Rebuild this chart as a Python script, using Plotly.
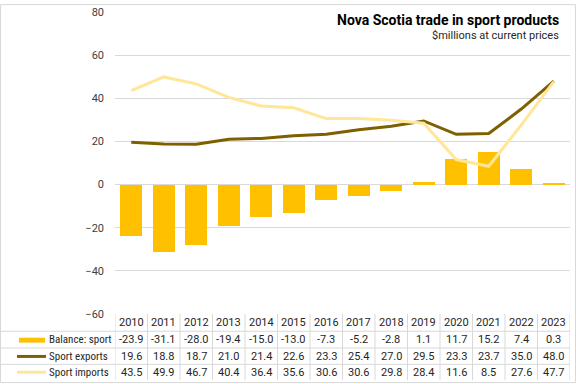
import plotly.graph_objects as go

years = ["2010", "2011", "2012", "2013", "2014", "2015", "2016", "2017", "2018", "2019", "2020", "2021", "2022", "2023"]
balance = [-23.9, -31.1, -28.0, -19.4, -15.0, -13.0, -7.3, -5.2, -2.8, 1.1, 11.7, 15.2, 7.4, 0.3]
exports = [19.6, 18.8, 18.7, 21.0, 21.4, 22.6, 23.3, 25.4, 27.0, 29.5, 23.3, 23.7, 35.0, 48.0]
imports = [43.5, 49.9, 46.7, 40.4, 36.4, 35.6, 30.6, 30.6, 29.8, 28.4, 11.6, 8.5, 27.6, 47.7]
series_names = ["Balance: sport", "Sport exports", "Sport imports"]

C_BAL = "#FFC000"
C_EXP = "#7F6000"
C_IMP = "#FFE699"
GRID = "#D9D9D9"
FONT = "Roboto"
NARROW = "Liberation Sans Narrow, Roboto Condensed, Roboto"

W, H = 576, 384
L, R, T, B = 115, 6, 8, 70
pw = W - L - R
ph = H - T - B

def px_x(px):
    return (px - L) / pw

def px_y(py):
    return (H - B - py) / ph

xs = list(range(len(years)))

fig = go.Figure()
fig.add_trace(go.Bar(x=xs, y=balance, marker=dict(color=C_BAL, line=dict(width=0)),
                     width=0.667, name=series_names[0], showlegend=False))
fig.add_trace(go.Scatter(x=xs, y=exports, mode="lines", line=dict(color=C_EXP, width=3),
                         name=series_names[1], showlegend=False))
fig.add_trace(go.Scatter(x=xs, y=imports, mode="lines", line=dict(color=C_IMP, width=3),
                         name=series_names[2], showlegend=False))

fig.update_layout(
    width=W, height=H,
    margin=dict(l=L, r=R, t=T, b=B),
    paper_bgcolor="white", plot_bgcolor="white",
    font=dict(family=FONT, size=11, color="#404040"),
    bargap=0,
    xaxis=dict(range=[-0.5, len(years) - 0.5], showticklabels=False, showgrid=False,
               zeroline=False, showline=False, ticks=""),
    yaxis=dict(range=[-60, 80], dtick=20, showgrid=True, gridcolor=GRID, gridwidth=1,
               zeroline=True, zerolinecolor=GRID, zerolinewidth=1, showline=False,
               ticks="", tickfont=dict(size=11, color="#404040"), ticklabelstandoff=10),
)

shapes = []
annotations = []

# outer chart border
shapes.append(dict(type="rect", xref="paper", yref="paper",
                   x0=px_x(0.5), x1=px_x(W - 0.5), y0=px_y(H - 0.5), y1=px_y(0.5),
                   line=dict(color=GRID, width=1), layer="below"))

# table
row_centers = [323, 340, 357, 373]
row_lines = [331.5, 348.5, 365, 381]
for ly in row_lines[:-1]:
    shapes.append(dict(type="line", xref="paper", yref="paper",
                       x0=px_x(1), x1=1, y0=px_y(ly), y1=px_y(ly),
                       line=dict(color=GRID, width=1)))
for i in range(len(years) + 1):
    shapes.append(dict(type="line", xref="x", yref="paper",
                       x0=i - 0.5, x1=i - 0.5, y0=0, y1=px_y(381),
                       line=dict(color=GRID, width=1)))

rows = [balance, exports, imports]
for i, yr in enumerate(years):
    annotations.append(dict(x=i, y=px_y(row_centers[0]), xref="x", yref="paper", text=yr,
                            showarrow=False, font=dict(size=11, color="#262626"),
                            xanchor="center", yanchor="middle"))
    for r, vals in enumerate(rows):
        annotations.append(dict(x=i, y=px_y(row_centers[r + 1]), xref="x", yref="paper",
                                text=f"{vals[i]:.1f}", showarrow=False,
                                font=dict(size=11, color="#262626"),
                                xanchor="center", yanchor="middle"))

# legend keys in table
for r, name in enumerate(series_names):
    cy = px_y(row_centers[r + 1])
    annotations.append(dict(x=px_x(47), y=cy, xref="paper", yref="paper", text=name,
                            showarrow=False, font=dict(family=NARROW, size=11, color="#262626"),
                            xanchor="left", yanchor="middle"))
shapes.append(dict(type="rect", xref="paper", yref="paper",
                   x0=px_x(19), x1=px_x(45), y0=px_y(343), y1=px_y(338),
                   fillcolor=C_BAL, line=dict(width=0)))
shapes.append(dict(type="line", xref="paper", yref="paper",
                   x0=px_x(17), x1=px_x(46), y0=px_y(357), y1=px_y(357),
                   line=dict(color=C_EXP, width=3)))
shapes.append(dict(type="line", xref="paper", yref="paper",
                   x0=px_x(17), x1=px_x(46), y0=px_y(373), y1=px_y(373),
                   line=dict(color=C_IMP, width=3)))

# title
annotations.append(dict(x=px_x(561), y=px_y(16), xref="paper", yref="paper",
                        text="<b>Nova Scotia trade in sport products</b>", showarrow=False,
                        font=dict(size=14, color="#000000"), xanchor="right", yanchor="middle"))
annotations.append(dict(x=px_x(561), y=px_y(32), xref="paper", yref="paper",
                        text="$millions at current prices", showarrow=False,
                        font=dict(size=11, color="#262626"), xanchor="right", yanchor="middle"))

fig.update_layout(shapes=shapes, annotations=annotations)
fig.write_html("out.html", config={"displayModeBar": False},
               post_script="document.body.style.margin='0';document.body.style.overflow='hidden';")
